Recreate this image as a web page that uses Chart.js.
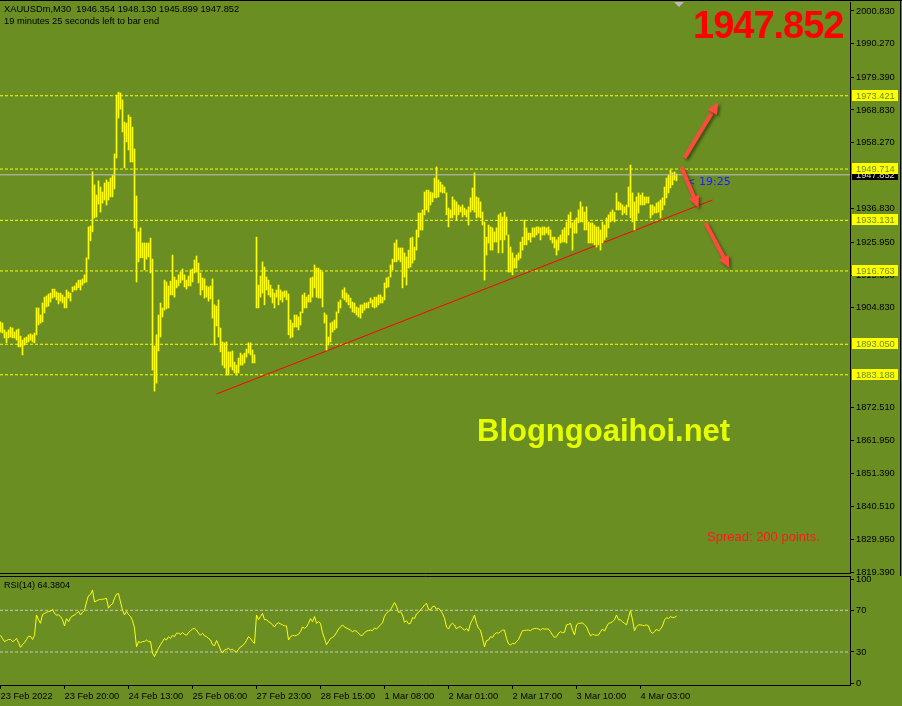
<!DOCTYPE html>
<html><head><meta charset="utf-8">
<script src="https://cdn.jsdelivr.net/npm/chart.js@4/dist/chart.umd.min.js"></script>
<style>
html,body{margin:0;padding:0;background:#6B8E23;width:902px;height:706px;overflow:hidden;}
#wrap{position:relative;width:902px;height:706px;}
.t{position:absolute;white-space:pre;margin:0;z-index:5;}
#main{position:absolute;left:0;top:0;z-index:2;}
#rsi{position:absolute;left:0;top:572px;z-index:3;}
#topline{position:absolute;left:0;top:0;width:902px;height:1px;background:#000;z-index:6;}
#rightline{position:absolute;left:900px;top:0;width:1px;height:576px;background:#000;z-index:6;}
</style></head>
<body><div id="wrap">
<canvas id="main" width="902" height="576"></canvas>
<canvas id="rsi" width="902" height="134"></canvas>
<div id="topline"></div><div id="rightline"></div>
<div class="t" style="left:4px;top:4.8px;font:9.3px/9.3px 'Liberation Sans',Arial,sans-serif;color:#000">XAUUSDm,M30  1946.354 1948.130 1945.899 1947.852</div>
<div class="t" style="left:4px;top:17.1px;font:9.3px/9.3px 'Liberation Sans',Arial,sans-serif;color:#000">19 minutes 25 seconds left to bar end</div>
<div class="t" id="bigPrice" style="left:693px;top:5.8px;font:bold 38px/38px 'Liberation Sans',Arial,sans-serif;letter-spacing:-1px;color:#ff0000">1947.852</div>
<div class="t" style="left:477px;top:414.8px;font:bold 31px/31px 'Liberation Sans',Arial,sans-serif;color:#e5ff00">Blogngoaihoi.net</div>
<div class="t" style="left:707px;top:529.5px;font:13px/13px 'Liberation Sans',Arial,sans-serif;color:#ff1a1a">Spread: 200 points.</div>
<div class="t" style="left:686px;top:175.7px;font:11px/11px 'DejaVu Sans',sans-serif;color:#1e1eff;z-index:1">&lt; 19:25</div>
<div class="t" style="left:4px;top:581.4px;font:9px/9px 'Liberation Sans',Arial,sans-serif;color:#000">RSI(14) 64.3804</div>
</div>
<script>
// ---------------- DATA ----------------
const highs = [
1900.3,1899.9,1897.7,1897.0,1897.7,1898.6,1898.3,1897.0,1897.7,1898.0,
1895.7,1894.4,1895.1,1895.4,1896.1,1896.4,1896.1,1896.7,1904.8,1904.8,
1902.5,1906.4,1908.3,1908.7,1909.3,1909.6,1910.9,1910.9,1910.0,1909.6,
1909.6,1909.0,1908.3,1910.6,1910.0,1909.6,1911.6,1911.9,1912.9,1913.8,
1913.8,1914.2,1915.5,1921.0,1931.0,1931.3,1948.8,1944.6,1941.3,1945.9,
1943.9,1942.3,1945.2,1946.2,1945.5,1946.8,1947.8,1954.6,1973.7,1974.6,
1974.3,1972.1,1964.9,1964.6,1967.2,1966.5,1963.3,1956.2,1941.0,1929.4,
1930.7,1925.8,1925.8,1925.8,1925.8,1927.4,1920.6,1892.5,1896.1,1902.5,
1906.4,1904.8,1913.8,1913.2,1911.9,1913.5,1921.9,1914.8,1913.8,1915.5,
1916.4,1917.4,1915.5,1913.8,1915.1,1917.1,1917.4,1920.3,1921.6,1919.3,
1916.1,1914.5,1914.2,1911.9,1911.6,1911.9,1914.2,1905.8,1905.4,1907.4,
1898.3,1893.8,1893.5,1893.8,1890.6,1890.6,1890.9,1887.3,1886.3,1888.6,
1890.2,1889.6,1890.2,1891.5,1893.5,1893.5,1891.2,1889.6,1927.7,1912.2,
1915.1,1919.7,1918.0,1914.8,1913.8,1912.2,1910.9,1909.6,1910.6,1912.2,
1910.6,1910.0,1910.3,1910.3,1909.3,1900.9,1899.9,1902.5,1902.5,1901.9,
1903.5,1909.0,1909.6,1908.3,1909.0,1914.5,1914.8,1918.7,1917.7,1917.7,
1917.1,1916.4,1903.2,1902.5,1895.4,1899.9,1900.3,1900.9,1903.5,1906.7,
1907.4,1910.6,1911.3,1909.6,1909.0,1908.0,1906.7,1906.4,1905.1,1904.8,
1905.8,1905.8,1906.4,1906.4,1906.7,1908.0,1907.4,1908.3,1908.3,1909.0,
1909.0,1908.3,1912.9,1914.5,1914.8,1918.7,1920.6,1925.8,1926.8,1924.2,
1924.2,1924.2,1922.6,1921.3,1923.5,1927.4,1927.7,1924.5,1930.0,1935.5,
1935.5,1936.5,1942.3,1942.9,1942.9,1942.3,1942.0,1946.8,1950.4,1946.2,
1945.5,1944.6,1943.9,1942.0,1937.1,1936.5,1940.7,1939.7,1939.1,1938.1,
1937.5,1938.1,1937.1,1936.5,1937.5,1940.4,1943.6,1948.5,1940.7,1940.4,
1939.1,1935.8,1932.6,1927.7,1931.6,1931.0,1930.7,1929.4,1930.7,1934.9,
1935.5,1934.2,1935.8,1934.2,1928.4,1924.5,1922.6,1920.9,1921.9,1922.6,
1926.1,1927.7,1933.2,1930.7,1929.0,1929.0,1930.7,1930.7,1931.0,1931.0,
1930.7,1931.0,1931.0,1930.7,1931.0,1930.0,1927.7,1927.7,1926.8,1927.7,
1928.4,1930.0,1930.7,1932.6,1934.9,1935.8,1932.3,1933.2,1933.9,1936.5,
1939.1,1937.5,1935.8,1937.5,1932.6,1932.3,1932.3,1931.6,1931.0,1931.0,
1930.0,1932.6,1931.6,1933.9,1934.9,1935.8,1936.5,1935.8,1942.0,1939.1,
1938.7,1938.1,1937.5,1938.1,1943.9,1951.0,1942.0,1939.1,1940.7,1942.0,
1941.3,1942.0,1940.7,1940.7,1940.7,1938.1,1938.1,1937.5,1938.7,1939.1,
1939.7,1940.4,1943.9,1946.8,1947.8,1949.4,1948.5,1948.8,1948.13
];
const lows = [
1897.0,1896.7,1895.1,1893.5,1895.1,1895.4,1895.1,1895.1,1894.4,1892.2,
1892.2,1889.6,1892.8,1893.5,1893.8,1894.4,1893.8,1893.5,1896.1,1899.3,
1899.9,1900.3,1903.2,1905.1,1905.4,1906.7,1908.0,1908.3,1907.4,1906.1,
1907.0,1906.4,1904.8,1904.8,1908.0,1907.0,1910.0,1910.6,1910.6,1911.3,
1910.6,1912.2,1912.9,1913.2,1920.6,1926.5,1929.4,1933.9,1934.2,1938.4,
1935.8,1938.7,1939.7,1938.1,1939.7,1940.7,1940.7,1943.3,1953.3,1966.2,
1969.1,1961.7,1950.1,1958.5,1955.9,1952.0,1952.0,1930.7,1913.2,1919.7,
1921.0,1921.0,1917.1,1920.6,1921.3,1916.1,1884.7,1877.9,1880.5,1890.9,
1895.4,1901.9,1904.1,1904.5,1904.8,1909.0,1909.0,1908.3,1911.3,1911.9,
1912.9,1913.8,1911.6,1910.9,1911.9,1911.9,1913.2,1916.1,1916.4,1912.9,
1909.0,1910.6,1908.0,1908.3,1907.0,1907.7,1901.5,1892.8,1899.0,1895.4,
1890.6,1886.3,1885.4,1883.1,1883.1,1885.7,1884.7,1883.8,1883.1,1883.8,
1886.3,1886.3,1887.0,1888.9,1890.2,1889.6,1887.0,1887.0,1904.8,1904.8,
1908.3,1909.6,1905.8,1910.6,1909.0,1908.3,1906.4,1904.8,1908.3,1905.8,
1907.4,1906.7,1908.3,1907.4,1896.1,1895.1,1895.4,1898.6,1898.6,1897.7,
1899.3,1903.2,1904.8,1904.8,1906.7,1906.7,1908.3,1911.3,1908.3,1908.0,
1908.0,1905.1,1899.9,1891.2,1892.8,1893.8,1897.0,1897.7,1898.3,1903.2,
1904.8,1908.0,1907.4,1906.7,1905.8,1904.8,1903.5,1903.2,1902.5,1901.9,
1901.5,1903.2,1904.1,1904.8,1904.8,1906.4,1905.1,1904.8,1905.1,1905.8,
1906.4,1906.4,1907.4,1911.3,1911.6,1914.8,1917.1,1919.7,1919.7,1920.3,
1919.7,1911.3,1914.8,1912.2,1917.7,1918.0,1919.3,1920.3,1923.5,1927.7,
1930.0,1930.0,1934.9,1936.5,1935.8,1938.1,1939.1,1940.4,1940.4,1940.7,
1942.3,1942.0,1942.0,1934.9,1931.0,1933.9,1933.9,1934.9,1933.2,1934.9,
1935.8,1934.2,1934.9,1934.2,1931.6,1935.8,1936.5,1935.8,1933.9,1934.2,
1933.9,1931.6,1913.8,1921.9,1925.8,1923.5,1923.5,1926.1,1926.1,1922.6,
1926.8,1922.6,1926.8,1928.4,1916.4,1916.4,1915.5,1917.7,1917.7,1920.3,
1920.9,1923.5,1925.2,1925.2,1926.8,1926.1,1927.7,1927.7,1928.4,1929.0,
1926.8,1928.4,1928.4,1929.0,1928.4,1926.8,1925.8,1924.2,1921.9,1923.5,
1925.8,1926.1,1926.1,1925.8,1928.4,1930.7,1923.5,1929.0,1929.0,1932.3,
1932.6,1932.6,1930.0,1930.0,1925.8,1925.8,1925.8,1925.2,1924.5,1925.2,
1923.5,1925.8,1926.8,1927.7,1930.7,1932.6,1933.2,1932.6,1936.5,1936.5,
1936.5,1934.9,1935.5,1934.9,1937.5,1933.9,1932.6,1930.0,1933.2,1935.5,
1938.1,1938.1,1938.1,1938.7,1938.7,1933.9,1934.9,1935.5,1935.5,1935.8,
1933.9,1936.5,1938.1,1940.4,1942.0,1943.6,1944.6,1946.2,1945.899
];
const rsiValues = [
46,43,40,41,42,42,40,41,43,39,
34.5,37,39,42,45,45,42,46,65.5,61,
57.5,66,67,68,69,69,71,67,65.5,65.5,
64,61,55,62,59,63,64.5,65.5,67,69,
65.5,68,70,78,84,85,89.5,78,79,80,
80.5,80.5,81,81.5,72,75,76,81.5,85.5,86,
78,70,65.5,69,66,64,60,53,35,40,
39,40,40,41.5,40,40,29,25.5,30,33.5,
37,40,43,41.5,44.7,43,46,44.7,48,48,
47,48.5,47,46,48.5,50.5,52,52.7,51,48,
46,48,45.5,44.7,43,41.5,37,36,41,37,
32,29,32,32.5,33.5,32,32.5,31,30,32.5,
35,36,38,41,44.7,43,40,38.3,65.5,61,
64,67,61,61,59,58,56,54,57,58,
57,56,55,55,41.5,44.7,46,45.5,46,47,
49.5,54,52.7,54,57.5,62,59,64,57.5,59,
57.5,48.5,43,37,40,43,44,45.5,48.5,52,
54,56,54,53,52,51,49.5,50.5,50,48,
46,46,48.5,50,50.5,51,50.5,53,52,54,
56,58,64.5,67,69,70.3,74,77.4,74,68,
68.7,65.5,58.5,60,57,57.5,63,62,66.5,68,
70.3,72.5,75,76.7,71,70.3,73.5,74,71,72,
69.7,67,62.3,54,52,56,57.5,55.9,52,54,
54.3,52.5,51,52.5,50,57.5,61,65.5,57.5,52.7,
51,43,35,41,41.5,44.7,44,47,48.5,48,
49.5,51,51,43,37.7,36.7,38.3,37.7,40,42,
46.3,50.5,50.5,51,51,50.5,52,52.5,52.7,52,
51,52.5,52,52,52,49.5,46.3,44,44.7,48,
49.5,48.5,49,56,56.5,57.5,51,46.3,56,57.5,
57.5,58,56,54.3,49.5,45.5,47,46.3,46,46.3,
49.5,52,50,54,57.5,58,59,61,65.5,61,
60.7,59,57.5,56,63,69.7,60.7,50.5,54.3,56,
56,55.5,55.3,56,55,49.5,48,49.5,52,50,
52,55,60.7,63,62,64,63,63.3,64.3804
];
const timeLabels = ["23 Feb 2022","23 Feb 20:00","24 Feb 13:00","25 Feb 06:00","27 Feb 23:00","28 Feb 15:00","1 Mar 08:00","2 Mar 01:00","2 Mar 17:00","3 Mar 10:00","4 Mar 03:00"];
const timeTickIndex = [0,32,64,96,128,160,192,224,256,288,320];
const priceTicks = [2000.83,1990.27,1979.39,1968.83,1958.27,1936.83,1925.95,1915.39,1904.83,1872.51,1861.95,1851.39,1840.51,1829.95,1819.39];
const levelPrices = [1973.421,1949.714,1933.131,1916.763,1893.050,1883.188];
const bidPrice = 1947.852;
const rsiLevels = [70,30];
const rsiTicks = [100,70,30,0];
const trendX = [108,356];
const trendY = [1876.97,1939.71];
const arrowFromX = [342,340.5,352.5];
const arrowFromY = [1953.3,1950.4,1932.3];
const arrowToX = [359,349,364.5];
const arrowToY = [1971.4,1937.1,1917.7];

// ---------------- LAYOUT ----------------
const BG = '#6B8E23';
const X_MIN = -0.25, X_MAX = 424.75;
const Y_MIN = 1819.08, Y_MAX = 2003.74;
const R_MIN = -1.65, R_MAX = 102.88;
const FONT = {family:"'Liberation Sans', Arial, sans-serif", size:9.3};

function drawArrow(ctx,x1,y1,x2,y2){
  const a = Math.atan2(y2-y1,x2-x1), hl = 12, hw = 5.5;
  const bx = x2-hl*Math.cos(a), by = y2-hl*Math.sin(a);
  ctx.lineWidth = 4;
  ctx.beginPath(); ctx.moveTo(x1,y1); ctx.lineTo(bx,by); ctx.stroke();
  ctx.beginPath(); ctx.moveTo(x2,y2);
  ctx.lineTo(bx+hw*Math.sin(a), by-hw*Math.cos(a));
  ctx.lineTo(bx-hw*Math.sin(a), by+hw*Math.cos(a));
  ctx.closePath(); ctx.fill();
}

const mainDeco = {
  id:'mainDeco',
  afterDatasetsDraw(chart){
    const {ctx, scales:{x,y}} = chart;
    ctx.save();
    ctx.fillStyle = ctx.strokeStyle = '#ff4b3e';
    ctx.shadowColor = 'rgba(25,40,0,0.6)'; ctx.shadowBlur = 3; ctx.shadowOffsetX = 2; ctx.shadowOffsetY = 2;
    for (let k=0;k<arrowFromX.length;k++){
      drawArrow(ctx, x.getPixelForValue(arrowFromX[k]), y.getPixelForValue(arrowFromY[k]),
                     x.getPixelForValue(arrowToX[k]), y.getPixelForValue(arrowToY[k]));
    }
    ctx.restore();
  },
  afterDraw(chart){
    const {ctx, chartArea:a, scales:{x,y}} = chart;
    ctx.save();
    ctx.strokeStyle = '#000'; ctx.lineWidth = 1;
    ctx.beginPath(); ctx.moveTo(a.left, a.bottom+0.5); ctx.lineTo(a.right+1, a.bottom+0.5); ctx.stroke();
    const sx = Math.round(x.getPixelForValue(highs.length));
    ctx.fillStyle = '#b9b9b9';
    ctx.beginPath(); ctx.moveTo(sx-5,a.top); ctx.lineTo(sx+5,a.top); ctx.lineTo(sx,a.top+5); ctx.closePath(); ctx.fill();
    ctx.font = "9.3px 'Liberation Sans', Arial, sans-serif";
    ctx.textBaseline = 'middle';
    const by = Math.round(y.getPixelForValue(bidPrice));
    ctx.fillStyle = '#000'; ctx.fillRect(a.right+2, by-5, 46, 10);
    ctx.fillStyle = '#d8d8d8'; ctx.fillText(bidPrice.toFixed(3), a.right+6, by+0.5);
    for (const lv of levelPrices){
      const ly = Math.round(y.getPixelForValue(lv));
      ctx.fillStyle = '#ffff00'; ctx.fillRect(a.right+2, ly-6, 46, 11);
      ctx.fillStyle = BG; ctx.fillText(lv.toFixed(3), a.right+6, ly);
    }
    ctx.restore();
  }
};

const rsiDeco = {
  id:'rsiDeco',
  afterDraw(chart){
    const {ctx, chartArea:a} = chart;
    ctx.save(); ctx.strokeStyle='#000'; ctx.lineWidth=1;
    ctx.beginPath(); ctx.moveTo(a.left, a.top+0.5); ctx.lineTo(a.right+1, a.top+0.5); ctx.stroke();
    ctx.restore();
  }
};

const levelSets = levelPrices.map(lv => ({type:'line', data:[{x:X_MIN,y:lv},{x:X_MAX,y:lv}], borderColor:'#ffff00', borderWidth:1, borderDash:[3,2], pointRadius:0, order:3}));

new Chart(document.getElementById('main'), {
  type:'bar',
  data:{datasets:[
    {type:'line', data:[{x:X_MIN,y:bidPrice},{x:X_MAX,y:bidPrice}], borderColor:'#c0c0c0', borderWidth:1, pointRadius:0, order:0},
    {type:'bar', data:lows.map((lo,i)=>({x:i, y:[lo, highs[i]]})), backgroundColor:'#ffff00', borderWidth:0, barThickness:1, order:1},
    {type:'line', data:trendX.map((v,k)=>({x:v, y:trendY[k]})), borderColor:'#ff0000', borderWidth:1, pointRadius:0, order:2},
    ...levelSets
  ]},
  options:{
    responsive:false, animation:false, events:[],
    layout:{padding:{left:0,right:0,top:2,bottom:3}},
    plugins:{legend:{display:false}, tooltip:{enabled:false}},
    scales:{
      x:{type:'linear', min:X_MIN, max:X_MAX, display:false, bounds:'data', offset:false, grid:{offset:false}},
      y:{type:'linear', position:'right', min:Y_MIN, max:Y_MAX, bounds:'data',
        afterBuildTicks:s=>{ s.ticks = priceTicks.map(v=>({value:v})); },
        afterFit:s=>{ s.width = 52; s.paddingTop = 0; s.paddingBottom = 0; },
        ticks:{callback:v=>Number(v).toFixed(3), font:FONT, color:'#000', padding:2, autoSkip:false},
        grid:{display:true, drawOnChartArea:false, drawTicks:true, tickLength:4, color:'#000'},
        border:{display:true, color:'#000', width:1}
      }
    }
  },
  plugins:[mainDeco]
});

new Chart(document.getElementById('rsi'), {
  type:'line',
  data:{datasets:[
    {data:rsiValues.map((v,i)=>({x:i,y:v})), borderColor:'#ffff00', borderWidth:1, pointRadius:0, tension:0, order:0},
    ...rsiLevels.map(l=>({data:[{x:X_MIN,y:l},{x:X_MAX,y:l}], borderColor:'#c8c8c8', borderWidth:1, borderDash:[3,2], pointRadius:0, order:1}))
  ]},
  options:{
    responsive:false, animation:false, events:[],
    layout:{padding:{left:0,right:0,top:4,bottom:0}},
    plugins:{legend:{display:false}, tooltip:{enabled:false}},
    scales:{
      x:{type:'linear', position:'bottom', min:X_MIN, max:X_MAX, bounds:'data', offset:false,
        afterBuildTicks:s=>{ s.ticks = timeTickIndex.map(v=>({value:v})); },
        afterFit:s=>{ s.height = 21; s.paddingLeft = 0; s.paddingRight = 0; },
        ticks:{callback:(v,i)=>timeLabels[i], align:'start', maxRotation:0, minRotation:0, autoSkip:false, font:FONT, color:'#000', padding:2},
        grid:{display:true, drawOnChartArea:false, drawTicks:true, tickLength:4, color:'#000', offset:false},
        border:{display:true, color:'#000', width:1}
      },
      y:{type:'linear', position:'right', min:R_MIN, max:R_MAX, bounds:'data',
        afterBuildTicks:s=>{ s.ticks = rsiTicks.map(v=>({value:v})); },
        afterFit:s=>{ s.width = 52; s.paddingTop = 0; s.paddingBottom = 0; },
        ticks:{callback:v=>String(v), font:FONT, color:'#000', padding:2, autoSkip:false},
        grid:{display:true, drawOnChartArea:false, drawTicks:true, tickLength:4, color:'#000'},
        border:{display:true, color:'#000', width:1}
      }
    }
  },
  plugins:[rsiDeco]
});
</script>
</body></html>
